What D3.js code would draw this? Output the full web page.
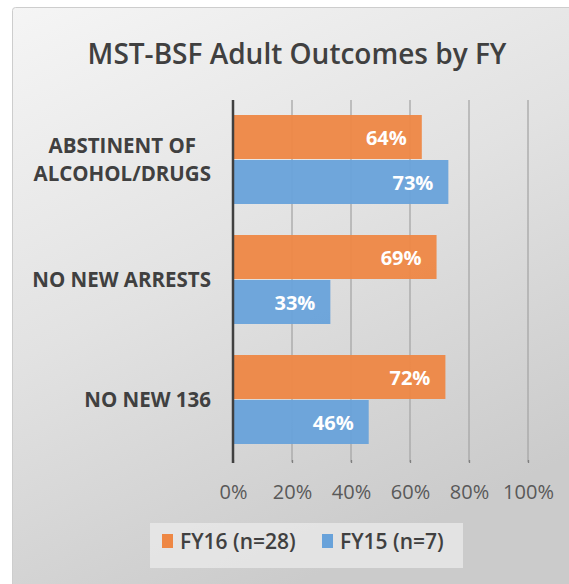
<!DOCTYPE html>
<html>
<head>
<meta charset="utf-8">
<script src="https://cdn.jsdelivr.net/npm/d3@7"></script>
<style>
  body { margin: 0; background: #fff; }
  svg { display: block; font-family: "Open Sans", "Noto Sans", sans-serif; }
</style>
</head>
<body>
<svg id="chart" width="569" height="584"></svg>
<script>
// MST-BSF adult outcomes, FY16 vs FY15 (percent of cases)
const categories = ["ABSTINENT OF|ALCOHOL/DRUGS", "NO NEW ARRESTS", "NO NEW 136"];
const seriesNames = ["FY16 (n=28)", "FY15 (n=7)"];
const fy16 = [64, 69, 72];
const fy15 = [73, 33, 46];
const xTicks = [0, 20, 40, 60, 80, 100];

const colors = ["#ee8744", "#68a2da"];
const svg = d3.select("#chart");

// background panel with soft gradient
const defs = svg.append("defs");
const grad = defs.append("linearGradient").attr("id", "bg")
  .attr("x1", "0%").attr("y1", "0%").attr("x2", "45%").attr("y2", "100%");
grad.append("stop").attr("offset", "0%").attr("stop-color", "#f5f5f5");
grad.append("stop").attr("offset", "50%").attr("stop-color", "#e2e2e2");
grad.append("stop").attr("offset", "100%").attr("stop-color", "#cbcbcb");

svg.append("rect")
  .attr("x", 12.5).attr("y", 7.5)
  .attr("width", 570).attr("height", 590)
  .attr("rx", 3)
  .attr("fill", "url(#bg)")
  .attr("stroke", "#cdcdcd");

svg.append("text")
  .attr("x", 297).attr("y", 64)
  .attr("text-anchor", "middle")
  .style("font-size", "28px")
  .style("font-weight", 600)
  .style("fill", "#404040")
  .text("MST-BSF Adult Outcomes by FY");

const plotLeft = 233, plotRight = 528, plotTop = 100, plotBottom = 460;
const x = d3.scaleLinear().domain([0, 100]).range([plotLeft, plotRight]);
const y0 = d3.scaleBand().domain(categories).range([plotTop, plotBottom])
  .paddingInner(0.25).paddingOuter(0.125);
const y1 = d3.scaleBand().domain(seriesNames).range([0, y0.bandwidth()]).padding(0);

// gridlines
svg.append("g")
  .selectAll("line")
  .data(xTicks.slice(1))
  .join("line")
  .attr("x1", d => x(d)).attr("x2", d => x(d))
  .attr("y1", plotTop).attr("y2", plotBottom + 2)
  .attr("stroke", "#a6a6a6")
  .attr("stroke-width", 1.3);

const rows = categories.map((c, i) => ({ cat: c, values: [fy16[i], fy15[i]] }));

const groups = svg.append("g")
  .selectAll("g")
  .data(rows)
  .join("g")
  .attr("transform", d => `translate(0,${y0(d.cat)})`);

groups.selectAll("rect")
  .data(d => d.values.map((v, i) => ({ name: seriesNames[i], value: v, i })))
  .join("rect")
  .attr("x", x(0))
  .attr("y", d => y1(d.name))
  .attr("width", d => x(d.value) - x(0))
  .attr("height", y1.bandwidth() - 1)
  .attr("fill", d => colors[d.i])
  .attr("fill-opacity", 0.95);

groups.selectAll("text.val")
  .data(d => d.values.map((v, i) => ({ name: seriesNames[i], value: v })))
  .join("text")
  .attr("class", "val")
  .attr("x", d => x(d.value) - 15)
  .attr("y", d => y1(d.name) + y1.bandwidth() / 2)
  .attr("dy", "0.36em")
  .attr("text-anchor", "end")
  .style("font-size", "20px")
  .style("font-weight", 700)
  .style("fill", "#fff")
  .text(d => d.value + "%");

// category labels, multi-line centered like Excel
groups.each(function(d) {
  const lines = d.cat.split("|");
  const g = d3.select(this);
  const cy = y0.bandwidth() / 2;
  const lh = 28;
  const t = g.append("text")
    .attr("text-anchor", "end")
    .style("font-size", "20.5px")
    .style("font-weight", 700)
    .style("fill", "#404040");
  lines.forEach((ln, k) => {
    t.append("tspan")
      .attr("x", 211)
      .attr("y", cy + (k - (lines.length - 1) / 2) * lh)
      .attr("dy", "0.36em")
      .text(ln);
  });
  if (lines.length > 1) {
    // center shorter lines against the longest one
    const spans = t.selectAll("tspan").nodes();
    const widths = spans.map(s => s.getComputedTextLength());
    const maxW = d3.max(widths);
    spans.forEach((s, k) => d3.select(s).attr("x", 211 - (maxW - widths[k]) / 2));
  }
});

// x axis
const xAxis = svg.append("g")
  .attr("transform", `translate(0,${plotBottom})`)
  .call(d3.axisBottom(x).tickValues(xTicks).tickFormat(d => d + "%").tickSize(3).tickPadding(22));
xAxis.select(".domain").remove();
xAxis.selectAll(".tick line").attr("stroke", "#7f7f7f").attr("stroke-width", 1.3);
xAxis.selectAll(".tick text")
  .style("font-size", "20px")
  .style("font-family", "'Open Sans', sans-serif")
  .style("fill", "#595959");

// category axis line
svg.append("line")
  .attr("x1", x(0)).attr("x2", x(0))
  .attr("y1", plotTop).attr("y2", plotBottom + 3)
  .attr("stroke", "#404040")
  .attr("stroke-width", 2.5);

// legend
const lg = svg.append("g");
lg.append("rect")
  .attr("x", 150).attr("y", 523)
  .attr("width", 313).attr("height", 45)
  .attr("fill", "#ececec").attr("fill-opacity", 0.7);
const legendX = [162, 322];
seriesNames.forEach((s, i) => {
  lg.append("rect")
    .attr("x", legendX[i]).attr("y", 534)
    .attr("width", 11).attr("height", 14)
    .attr("fill", colors[i]);
  lg.append("text")
    .attr("x", legendX[i] + 18).attr("y", 541)
    .attr("dy", "0.36em")
    .style("font-size", "21px")
    .style("font-weight", 600)
    .style("fill", "#404040")
    .text(s);
});
</script>
</body>
</html>
